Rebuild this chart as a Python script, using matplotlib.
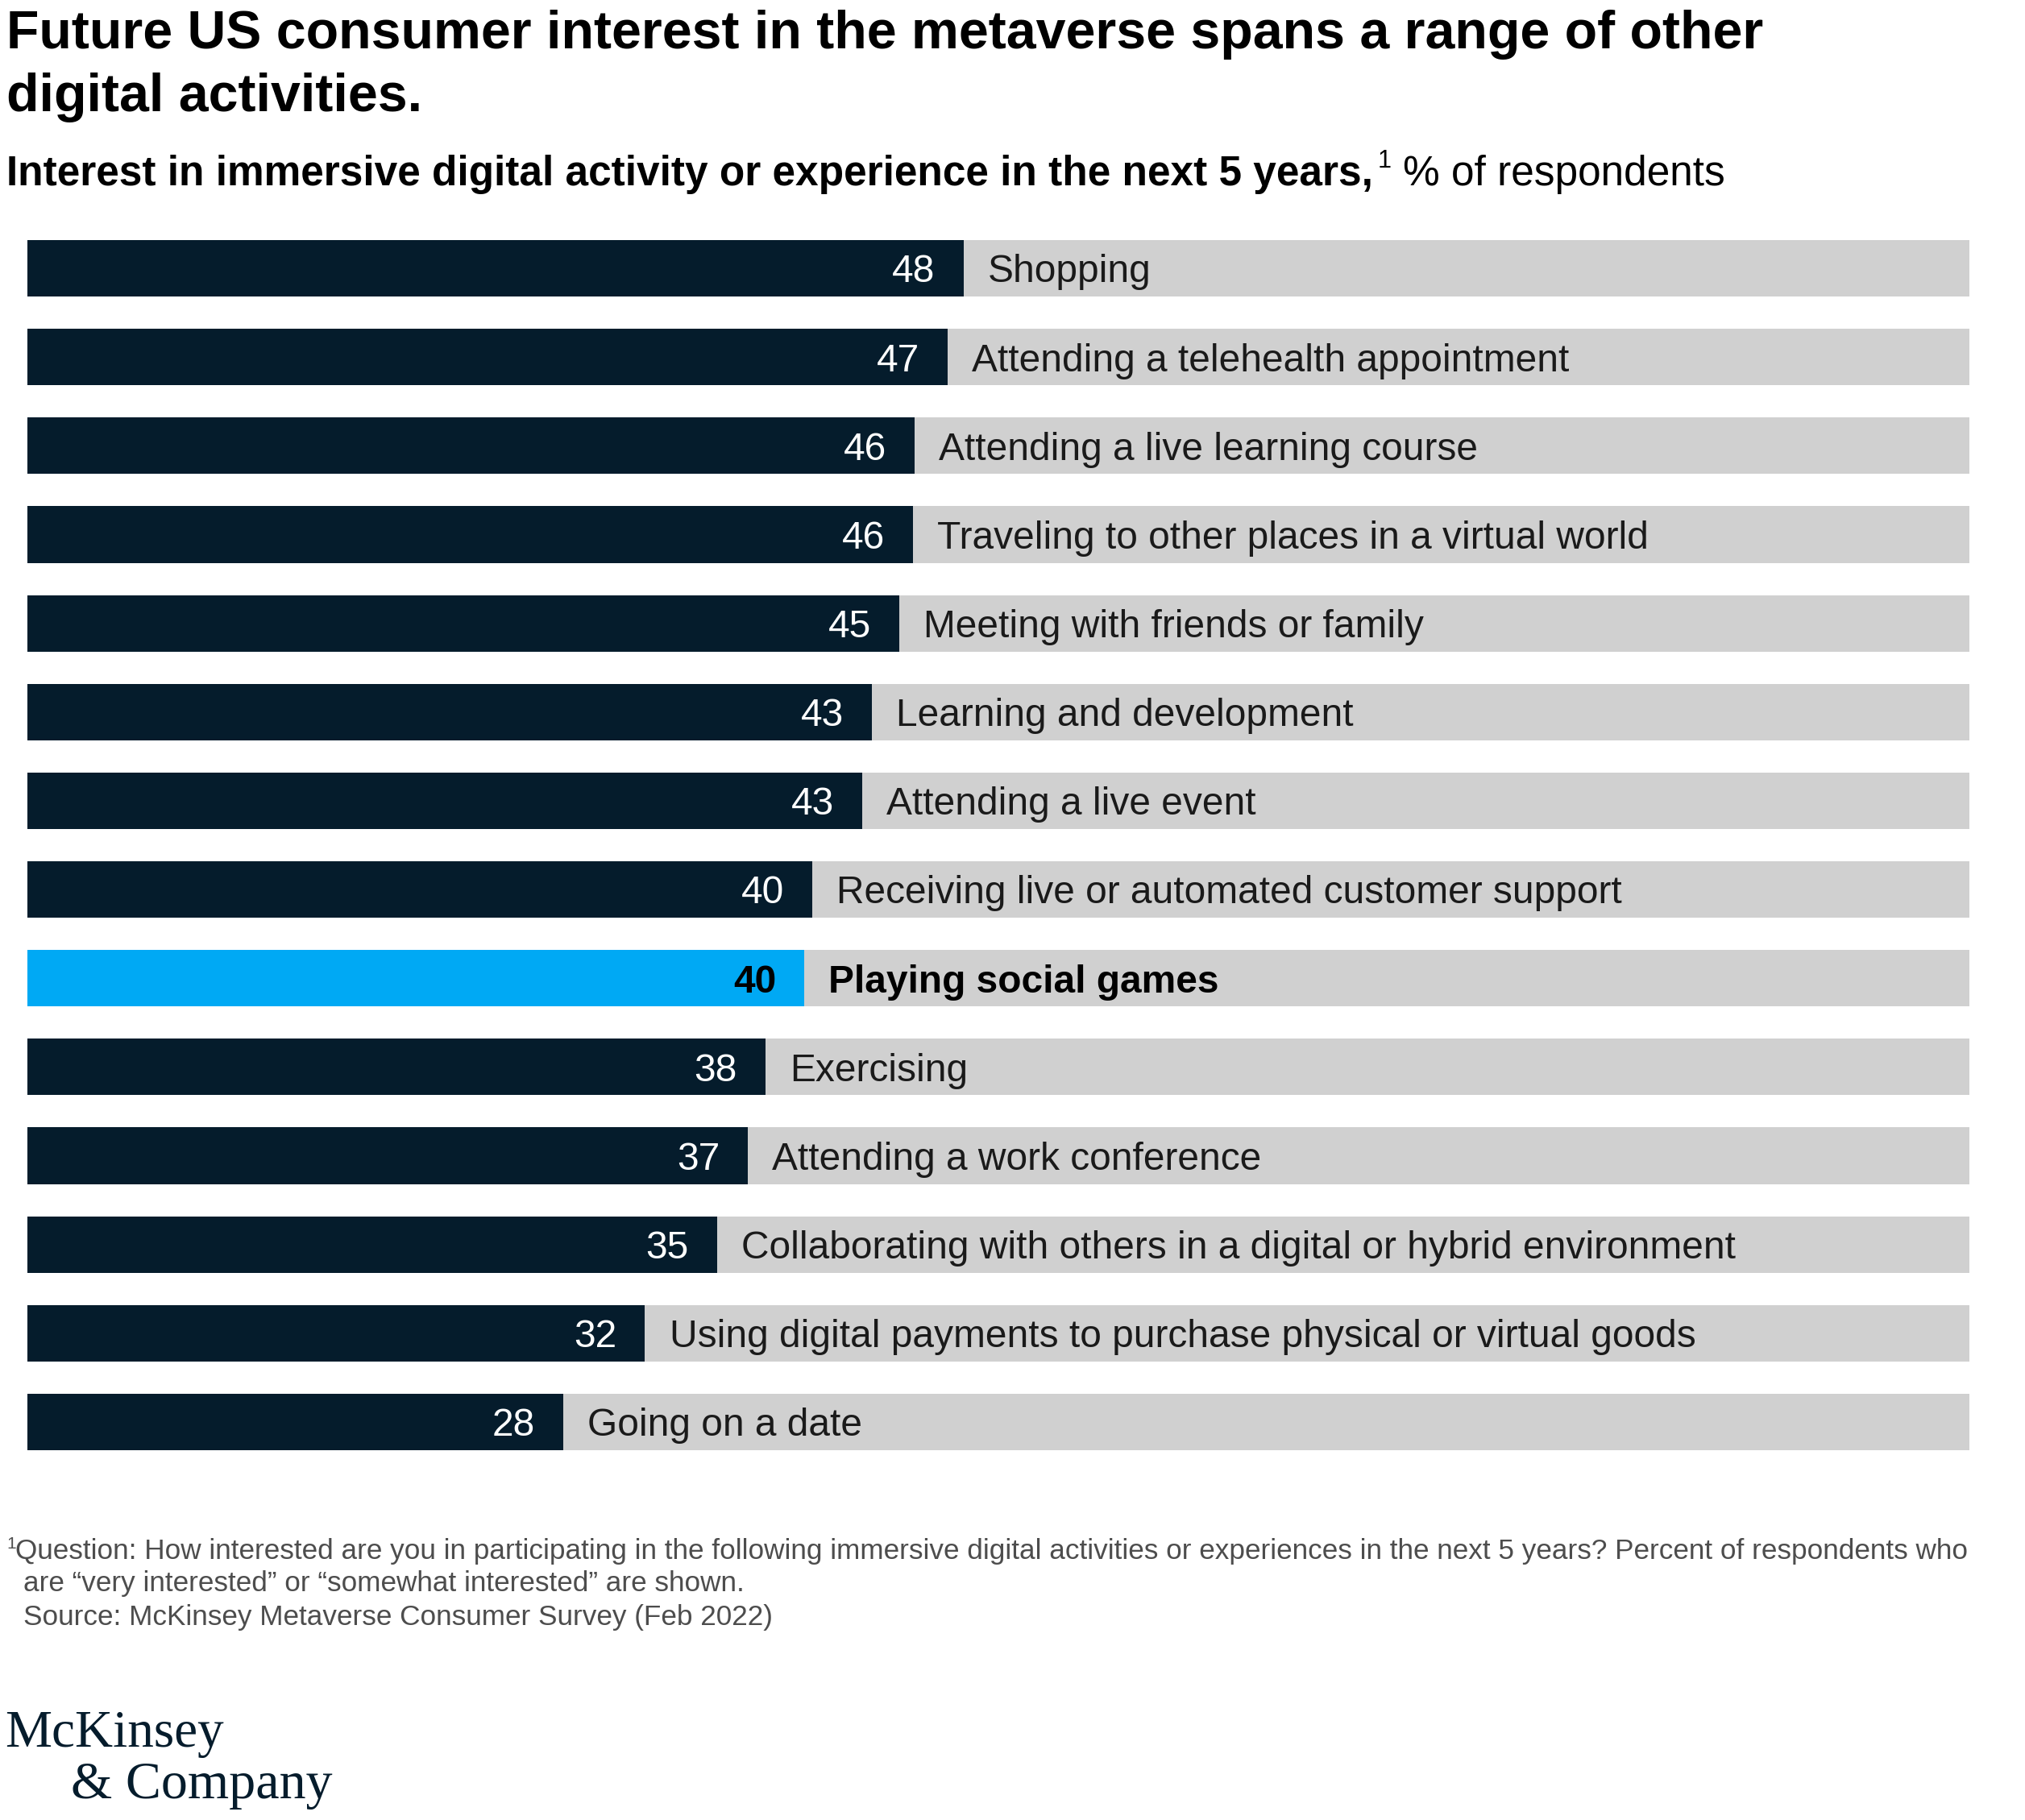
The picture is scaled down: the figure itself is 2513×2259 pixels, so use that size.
import matplotlib.pyplot as plt

W, H = 2513, 2259
DPI = 100

activities = [
    "Shopping",
    "Attending a telehealth appointment",
    "Attending a live learning course",
    "Traveling to other places in a virtual world",
    "Meeting with friends or family",
    "Learning and development",
    "Attending a live event",
    "Receiving live or automated customer support",
    "Playing social games",
    "Exercising",
    "Attending a work conference",
    "Collaborating with others in a digital or hybrid environment",
    "Using digital payments to purchase physical or virtual goods",
    "Going on a date",
]
# rounded values as printed, and unrounded bar lengths
shown = [48, 47, 46, 46, 45, 43, 43, 40, 40, 38, 37, 35, 32, 28]
bar_len = [48.2, 47.4, 45.7, 45.6, 44.9, 43.5, 43.0, 40.4, 40.0, 38.0, 37.1, 35.5, 31.8, 27.6]
highlight = "Playing social games"

title = ["Future US consumer interest in the metaverse spans a range of other",
         "digital activities."]
subtitle_bold = "Interest in immersive digital activity or experience in the next 5 years,"
subtitle_rest = "% of respondents"
footnote = ["Question: How interested are you in participating in the following immersive digital activities or experiences in the next 5 years? Percent of respondents who",
            "are \u201cvery interested\u201d or \u201csomewhat interested\u201d are shown.",
            "Source: McKinsey Metaverse Consumer Survey (Feb 2022)"]

NAVY = "#051c2c"
BLUE = "#00a9f4"
GREY = "#d0d0d0"
TXT = "#1a1a1a"

plt.rcParams["font.family"] = ["Liberation Sans", "DejaVu Sans"]

fig = plt.figure(figsize=(W / DPI, H / DPI), dpi=DPI)
fig.patch.set_facecolor("white")


def fx(px):
    return px / W


def fy(py):
    return 1 - py / H


# bars
top, bot = 278, 1820
ax = fig.add_axes([fx(34), fy(bot), 2410 / W, (bot - top) / H])
n = len(activities)
ys = list(range(n))
colors = [BLUE if a == highlight else NAVY for a in activities]
ax.barh(ys, [100] * n, height=0.636, color=GREY, linewidth=0)
ax.barh(ys, bar_len, height=0.636, color=colors, linewidth=0)
ax.set_xlim(0, 100)
ax.set_ylim(n - 0.5, -0.5)
ax.axis("off")

LS = 34.5
for i, (a, s, v) in enumerate(zip(activities, shown, bar_len)):
    hl = a == highlight
    ax.text(v - 1.45, i + 0.158, str(s), ha="right", va="baseline", fontsize=LS,
            color="black" if hl else "white", weight="bold" if hl else "normal")
    ax.text(v + 1.25, i + 0.158, a, ha="left", va="baseline", fontsize=LS,
            color="black" if hl else TXT, weight="bold" if hl else "normal")

# title
fig.text(fx(8), fy(60), title[0], fontsize=47.7, weight="bold", color="black", va="baseline")
fig.text(fx(8), fy(138), title[1], fontsize=47.7, weight="bold", color="black", va="baseline")

# subtitle: bold part, superscript, regular part
r = fig.canvas.get_renderer()
t1 = fig.text(fx(8), fy(230), subtitle_bold, fontsize=37, weight="bold", color="black", va="baseline")
x1 = t1.get_window_extent(r).x1
t2 = fig.text((x1 + 6) / W, fy(208), "1", fontsize=22, color="black", va="baseline")
x2 = t2.get_window_extent(r).x1
fig.text((x2 + 14) / W, fy(230), subtitle_rest, fontsize=37, color="black", va="baseline")

# footnote
FG = "#4d4d4d"
fig.text(fx(8), fy(1922), "1", fontsize=15, color=FG, va="baseline")
fig.text(fx(19), fy(1935), footnote[0], fontsize=25.3, color=FG, va="baseline")
fig.text(fx(29), fy(1975), footnote[1], fontsize=25.3, color=FG, va="baseline")
fig.text(fx(29), fy(2017), footnote[2], fontsize=25.3, color=FG, va="baseline")

# logo
fig.text(fx(6), fy(2168), "McKinsey", fontsize=47, family="Liberation Serif", color=NAVY, va="baseline")
fig.text(fx(88), fy(2232), "& Company", fontsize=47.5, family="Liberation Serif", color=NAVY, va="baseline")

fig.savefig("out.png", dpi=DPI)
